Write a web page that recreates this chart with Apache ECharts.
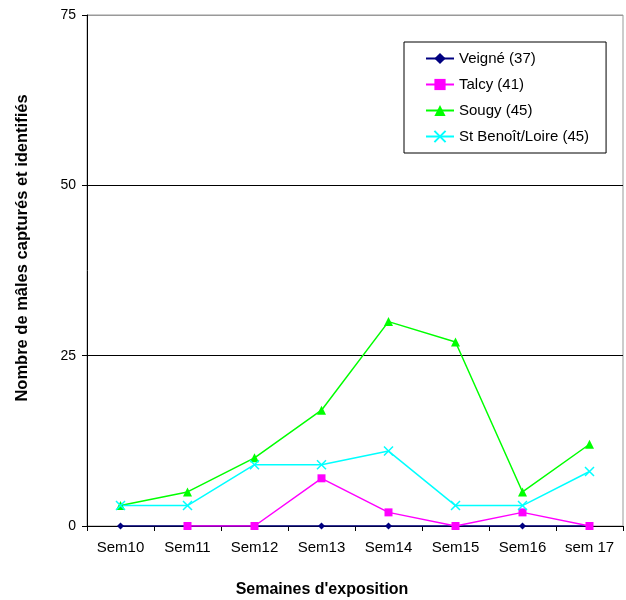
<!DOCTYPE html>
<html>
<head>
<meta charset="utf-8">
<script src="https://cdn.jsdelivr.net/npm/echarts@6/dist/echarts.min.js"></script>
<style>html,body{margin:0;padding:0;background:#fff}#c{width:626px;height:600px}</style>
</head>
<body>
<div id="c"></div>
<script>
var categories = ['Sem10','Sem11','Sem12','Sem13','Sem14','Sem15','Sem16','sem 17'];
var veigne = [0,0,0,0,0,0,0,0];
var talcy = [null,0,0,7,2,0,2,0];
var sougy = [3,5,10,17,30,27,5,12];
var stBenoit = [3,3,9,9,11,3,3,8];
var yTicks = [0,25,50,75];
var xTitle = "Semaines d'exposition";
var yTitle = 'Nombre de mâles capturés et identifiés';

var FONT = '"Liberation Sans", Arial, sans-serif';
var chart = echarts.init(document.getElementById('c'), null, {renderer:'canvas'});
chart.setOption({
  animation: false,
  backgroundColor: '#fff',
  grid: {left: 87, right: 3, top: 15, bottom: 74, show: true, borderColor: '#999', borderWidth: 1,
         containLabel: false, outerBoundsMode: 'none'},
  graphic: [
    {type: 'text', x: 322, y: 590, style: {text: xTitle, align: 'center', verticalAlign: 'middle',
      font: 'bold 16px ' + FONT, fill: '#000'}},
    {type: 'text', x: 22, y: 248, rotation: Math.PI / 2, style: {text: yTitle, align: 'center', verticalAlign: 'middle',
      font: 'bold 16.5px ' + FONT, fill: '#000'}}
  ],
  legend: {
    orient: 'vertical', left: 404, top: 42,
    padding: [9, 17, 9, 21], itemGap: 11, itemWidth: 28, itemHeight: 14,
    borderColor: '#000', borderWidth: 1, backgroundColor: '#fff',
    textStyle: {fontFamily: FONT, fontSize: 15, color: '#000'},
    data: ['Veigné (37)','Talcy (41)','Sougy (45)','St Benoît/Loire (45)']
  },
  xAxis: {
    type: 'category', data: categories, boundaryGap: true,
    axisLine: {lineStyle: {color: '#000', width: 1}},
    axisTick: {show: true, interval: 0, length: 5, lineStyle: {color: '#000'}},
    axisLabel: {interval: 0, margin: 14, fontFamily: FONT, fontSize: 15, color: '#000'}
  },
  yAxis: {
    type: 'value', min: yTicks[0], max: yTicks[yTicks.length-1], interval: 25,
    axisLine: {show: true, lineStyle: {color: '#000', width: 1}},
    axisTick: {show: true, length: 5, lineStyle: {color: '#000'}},
    axisLabel: {margin: 11, fontFamily: FONT, fontSize: 14, color: '#000'},
    splitLine: {show: true, lineStyle: {color: ['#000','#000','#000','#999'], width: 1}}
  },
  series: [
    {name: 'Veigné (37)', type: 'line', data: veigne, symbol: 'diamond', symbolSize: 7,
     lineStyle: {color: '#000080', width: 1.5}, itemStyle: {color: '#000080'}},
    {name: 'Talcy (41)', type: 'line', data: talcy, symbol: 'rect', symbolSize: 8,
     lineStyle: {color: '#FF00FF', width: 1.5}, itemStyle: {color: '#FF00FF'}},
    {name: 'Sougy (45)', type: 'line', data: sougy, symbol: 'triangle', symbolSize: 9,
     lineStyle: {color: '#00FF00', width: 1.5}, itemStyle: {color: '#00FF00'}},
    {name: 'St Benoît/Loire (45)', type: 'line', data: stBenoit,
     symbol: 'path://M0,0L10,10M10,0L0,10', symbolSize: 9,
     lineStyle: {color: '#00FFFF', width: 1.5},
     itemStyle: {color: 'rgba(0,0,0,0)', borderColor: '#00FFFF', borderWidth: 1.5}}
  ]
});
</script>
</body>
</html>
